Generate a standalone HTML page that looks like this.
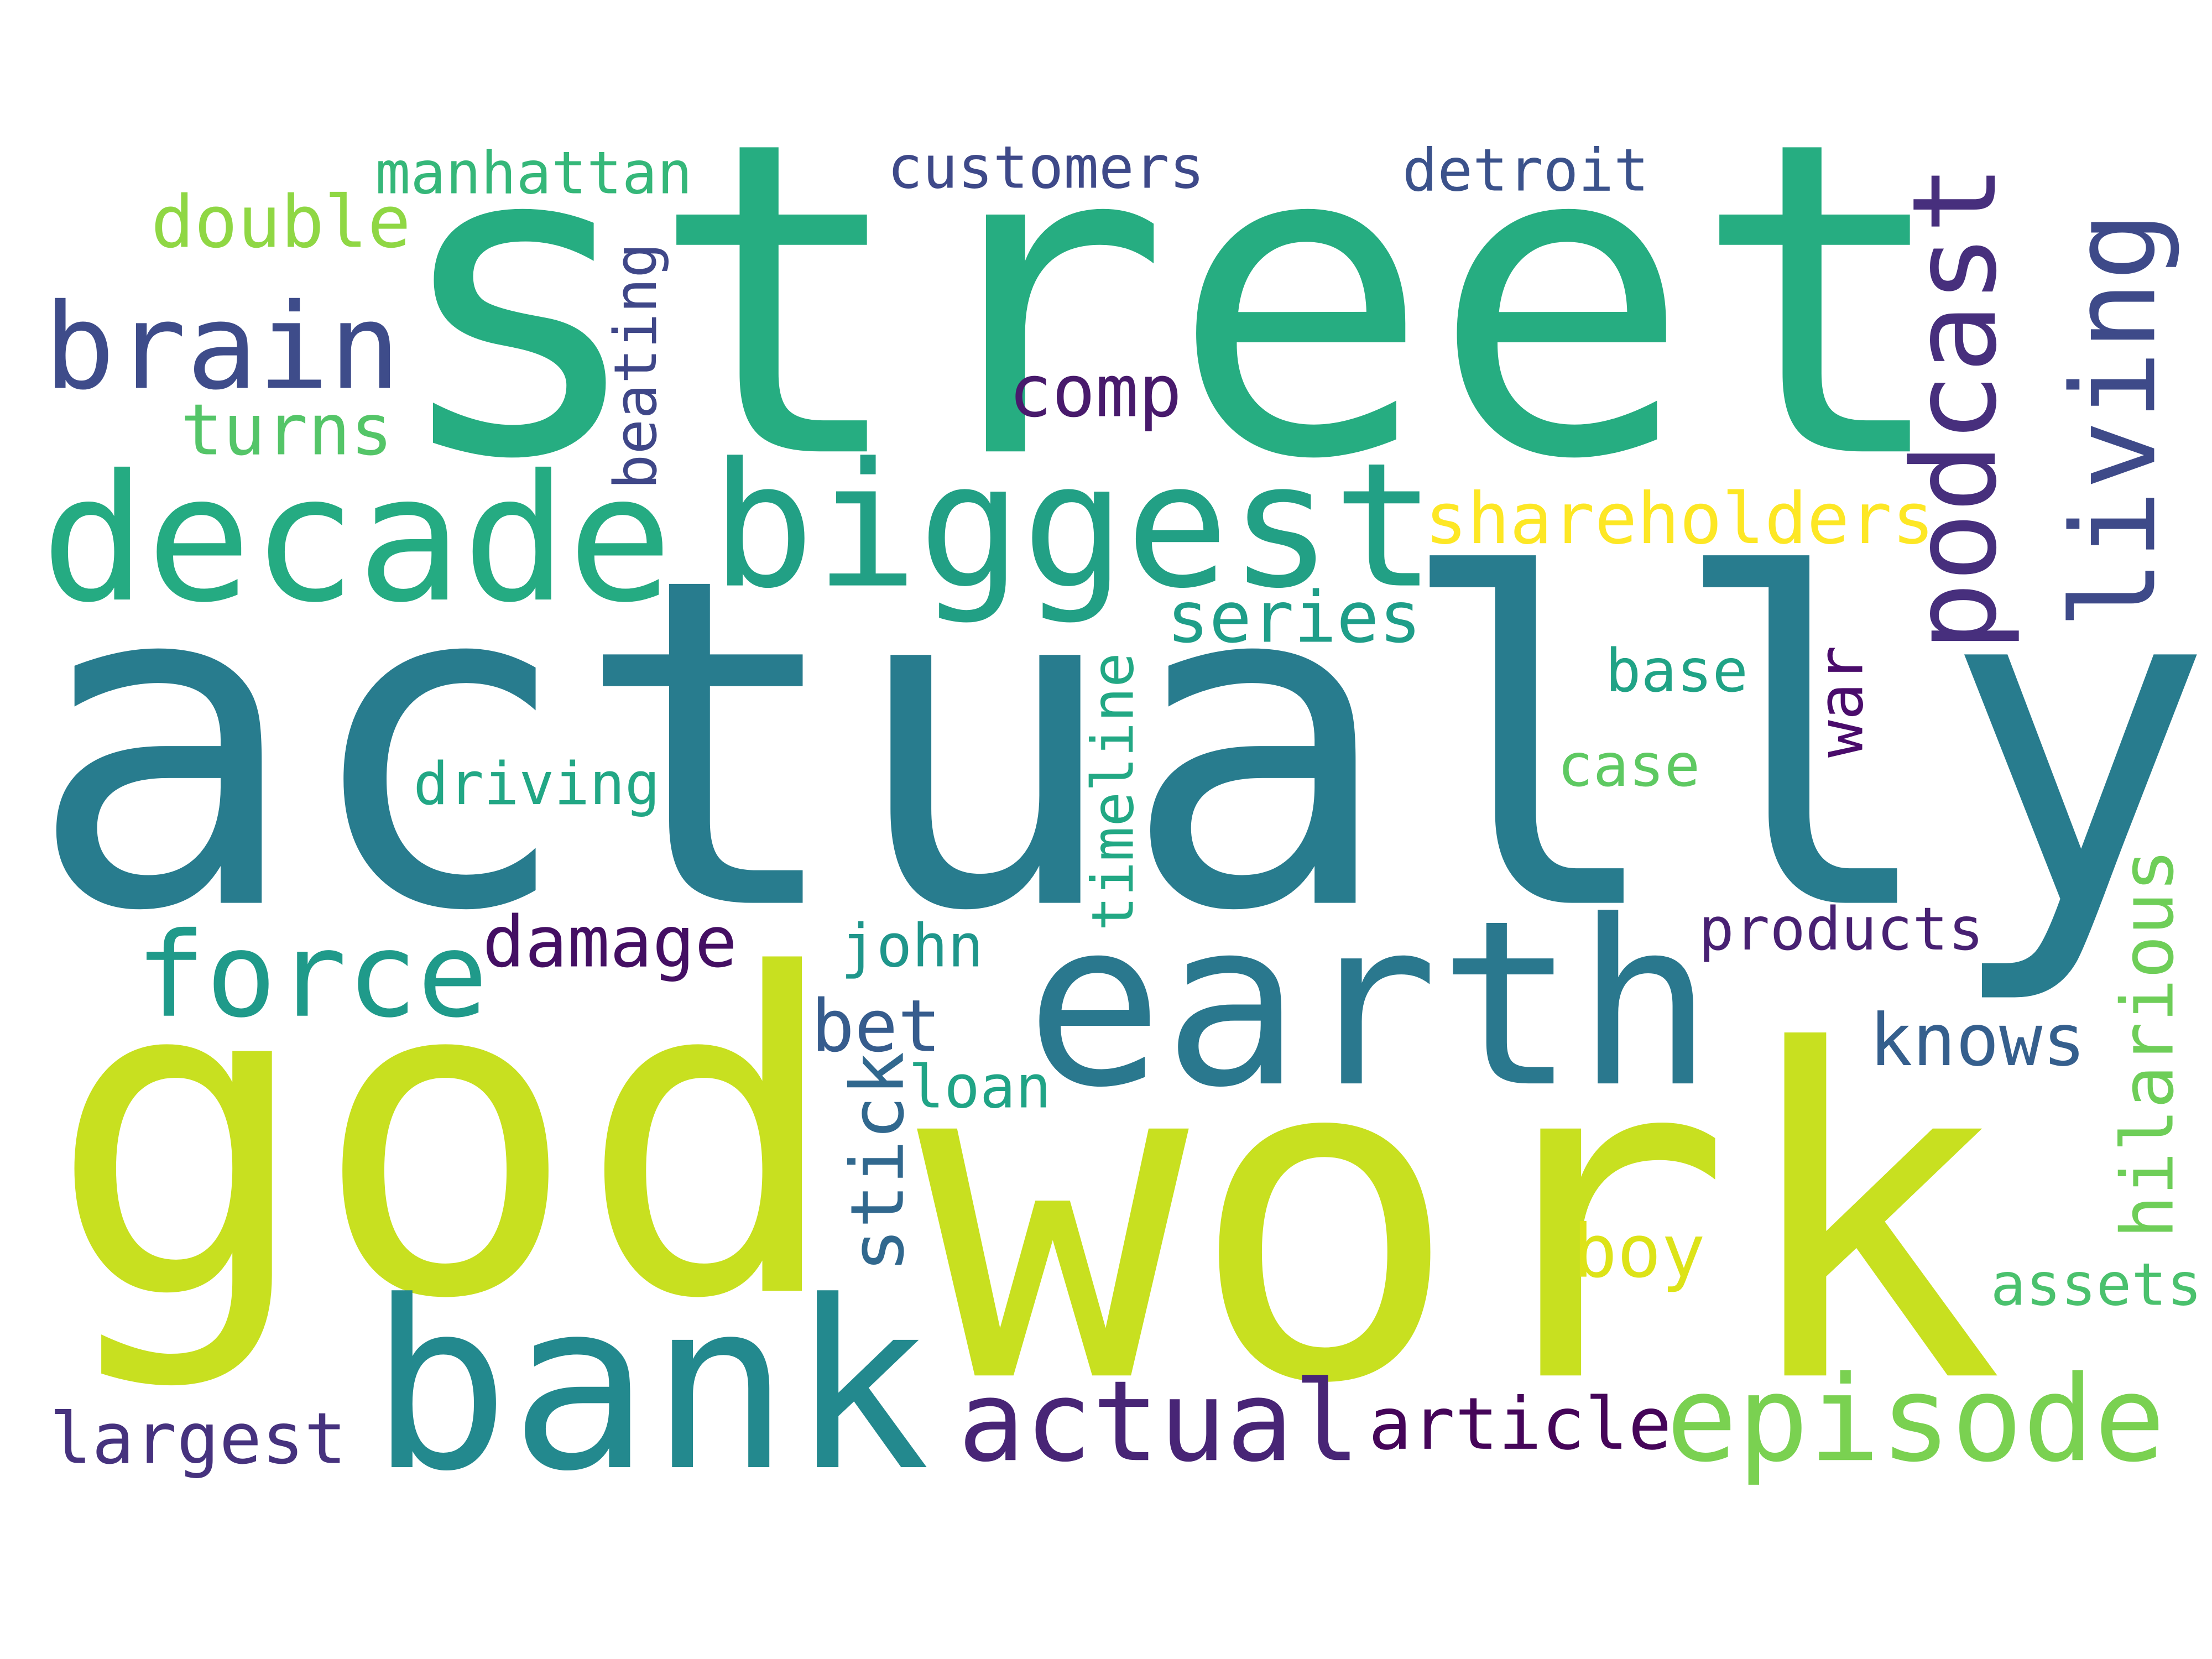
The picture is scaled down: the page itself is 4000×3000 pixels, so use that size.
<!DOCTYPE html>
<html><head><meta charset="utf-8"><style>
html,body{margin:0;padding:0;background:#fff;}
svg{display:block;}
text{font-family:"DejaVu Sans Mono","Liberation Mono",monospace;}
</style></head><body>
<svg width="4000" height="3000" viewBox="0 0 1568 1176" xmlns="http://www.w3.org/2000/svg">
<rect width="1568" height="1176" fill="#ffffff"/>
<g id="words"></g>
</svg>
<script>
const words = ["street","actually","god","work","bank","earth","biggest","decade","brain","force","actual","episode","manhattan","customers","detroit","double","turns","comp","shareholders","series","base","case","driving","damage","john","products","bet","knows","loan","boy","assets","largest","article","living","hilarious","timeline","beating","stick","war","podcast"];
const sizes = [307,322,312,320,165,162,122,124,84,83,79,84,41.5,41.5,41.5,51,50,51,50,50,42,42,41.5,50,42,42,51,51,42,52,41.5,50,51,82,51,41,41.5,52,44,82];
const colors = ["#26ad81","#287c8e","#c8e020","#c8e020","#23898e","#2a788e","#22a085","#25ab82","#3e4c8a","#1f9a8a","#482576","#7ad151","#35b779","#3e4989","#3b528b","#8fd744","#54c568","#481a6c","#fde725","#1f9e89","#20a386","#5ec962","#22a785","#440f63","#1f968b","#482173","#365c8d","#355f8d","#20a486","#dde318","#4ac16d","#46327e","#450559","#3e4a89","#6ece58","#22a884","#3f4788","#31688e","#4a0c6b","#472f7d"];
const posX = [275,19,34,650,262,727,504,29,31,96,679,1181,266,629,994,107,128,715,1010,827,1138,1104,293,342,596,1204,575,1325,644,1115,1411,35,970,1527,1540,803,465,640,1320,1414];
const posY = [320,640,915,975,1040,768,415,425,275,720,1035,1035,137,133,135,175,322,295,385,455,490,557,570,685,685,673,745,755,785,905,925,1037,1027,446,878,660,347,902,537,462];
const vertical = [0,0,0,0,0,0,0,0,0,0,0,0,0,0,0,0,0,0,0,0,0,0,0,0,0,0,0,0,0,0,0,0,0,1,1,1,1,1,1,1];
const g = document.getElementById('words');
const NS = "http://www.w3.org/2000/svg";
for (let i = 0; i < words.length; i++) {
  const t = document.createElementNS(NS, 'text');
  
  
  t.setAttribute('font-size', sizes[i]);
  t.setAttribute('fill', colors[i]);
  if (vertical[i]) {
    t.setAttribute('x', 0);
    t.setAttribute('y', 0);
    t.setAttribute('transform', 'translate(' + posX[i] + ',' + posY[i] + ') rotate(-90)');
  } else {
    t.setAttribute('x', posX[i]);
    t.setAttribute('y', posY[i]);
  }
  t.textContent = words[i];
  g.appendChild(t);
}
</script>
</body></html>
